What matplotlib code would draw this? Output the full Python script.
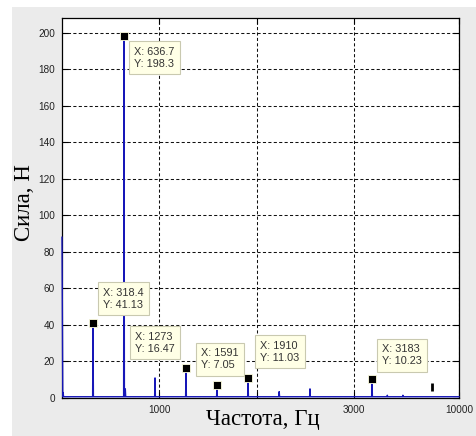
import numpy as np
import matplotlib
matplotlib.use("Agg")
import matplotlib.pyplot as plt
from matplotlib.patches import Rectangle

# spectrum peaks (Hz, N)
peak_freq = [0, 12, 318.4, 636.7, 650, 955, 1273, 1591, 1910, 2230, 2546, 3183, 3340, 3500]
peak_amp  = [88, 3, 41.13, 198.3, 5, 11, 16.47, 7.05, 11.03, 3.5, 5, 10.23, 1.5, 1.5]
baseline  = 0.7

# data tips: (x, y, label offset in px)
tip_x = [636.7, 318.4, 1273, 1591, 1910, 3183]
tip_y = [198.3, 41.13, 16.47, 7.05, 11.03, 10.23]
tip_off = [(10, -11), (10, 35), (-51, 36), (-16, 37), (12, 37), (10, 35)]

xticks  = [1000, 2000, 3000, 4076]
xlabels = ["1000", "", "3000", "10000"]
yticks  = np.arange(0, 201, 20)

# build spike trace
xs, ys = [0.0], [peak_amp[0]]
for f, a in zip(peak_freq[1:], peak_amp[1:]):
    xs += [f - 4, f, f + 4]
    ys += [baseline, a, baseline]
xs.append(4076)
ys.append(baseline)

fig = plt.figure(figsize=(4.76, 4.36), dpi=100, facecolor="#ebebeb")
fig.patches.append(Rectangle((0, 1 - 7 / 436), 1, 7 / 436, transform=fig.transFigure,
                             facecolor="white", edgecolor="none", zorder=-1))
fig.patches.append(Rectangle((0, 0), 12 / 476, 1, transform=fig.transFigure,
                             facecolor="white", edgecolor="none", zorder=-1))

ax = fig.add_axes([62 / 476, 38 / 436, 397 / 476, 380 / 436])
ax.set_facecolor("white")
ax.plot(xs, ys, color="#1717b8", lw=1.0, zorder=3, clip_on=False)
ax.plot(tip_x, tip_y, "s", color="black", ms=5.5, mec="#ffffe0", mew=0.6, zorder=5)
ax.plot([3800], [6], "|", color="black", ms=6, mew=2, zorder=5)

ax.set_xlim(0, 4076)
ax.set_ylim(0, 208)
ax.set_xticks(xticks)
ax.set_xticklabels(xlabels)
ax.set_yticks(yticks)
ax.grid(True, color="#111111", lw=0.75, linestyle=(0, (3, 2.2)))
ax.tick_params(direction="in", length=4, width=0.8, top=True, right=True,
               labelsize=7.2, labelcolor="#222222", pad=5)
for tl in ax.get_xticklabels() + ax.get_yticklabels():
    tl.set_fontfamily("Liberation Sans")
for s in ax.spines.values():
    s.set_linewidth(0.9)
    s.set_color("black")

for x, y, off in zip(tip_x, tip_y, tip_off):
    ax.annotate(f"X: {x:g}\nY: {y:g}", xy=(x, y), xytext=off, textcoords="offset pixels",
                ha="left", va="top", fontsize=7.8, family="Liberation Sans", color="#333333",
                linespacing=1.25, zorder=6,
                bbox=dict(boxstyle="square,pad=0.5", fc="#ffffe6", ec="#c9c9b0", lw=0.8))

fig.text(25 / 476, 1 - 203 / 436, "Сила, Н", rotation=90, ha="center", va="center",
         fontsize=16.5, family="Liberation Serif")
fig.text(263 / 476, 11 / 436, "Частота, Гц", ha="center", va="baseline",
         fontsize=16.5, family="Liberation Serif")

fig.savefig("out.png", dpi=100, facecolor=fig.get_facecolor())
